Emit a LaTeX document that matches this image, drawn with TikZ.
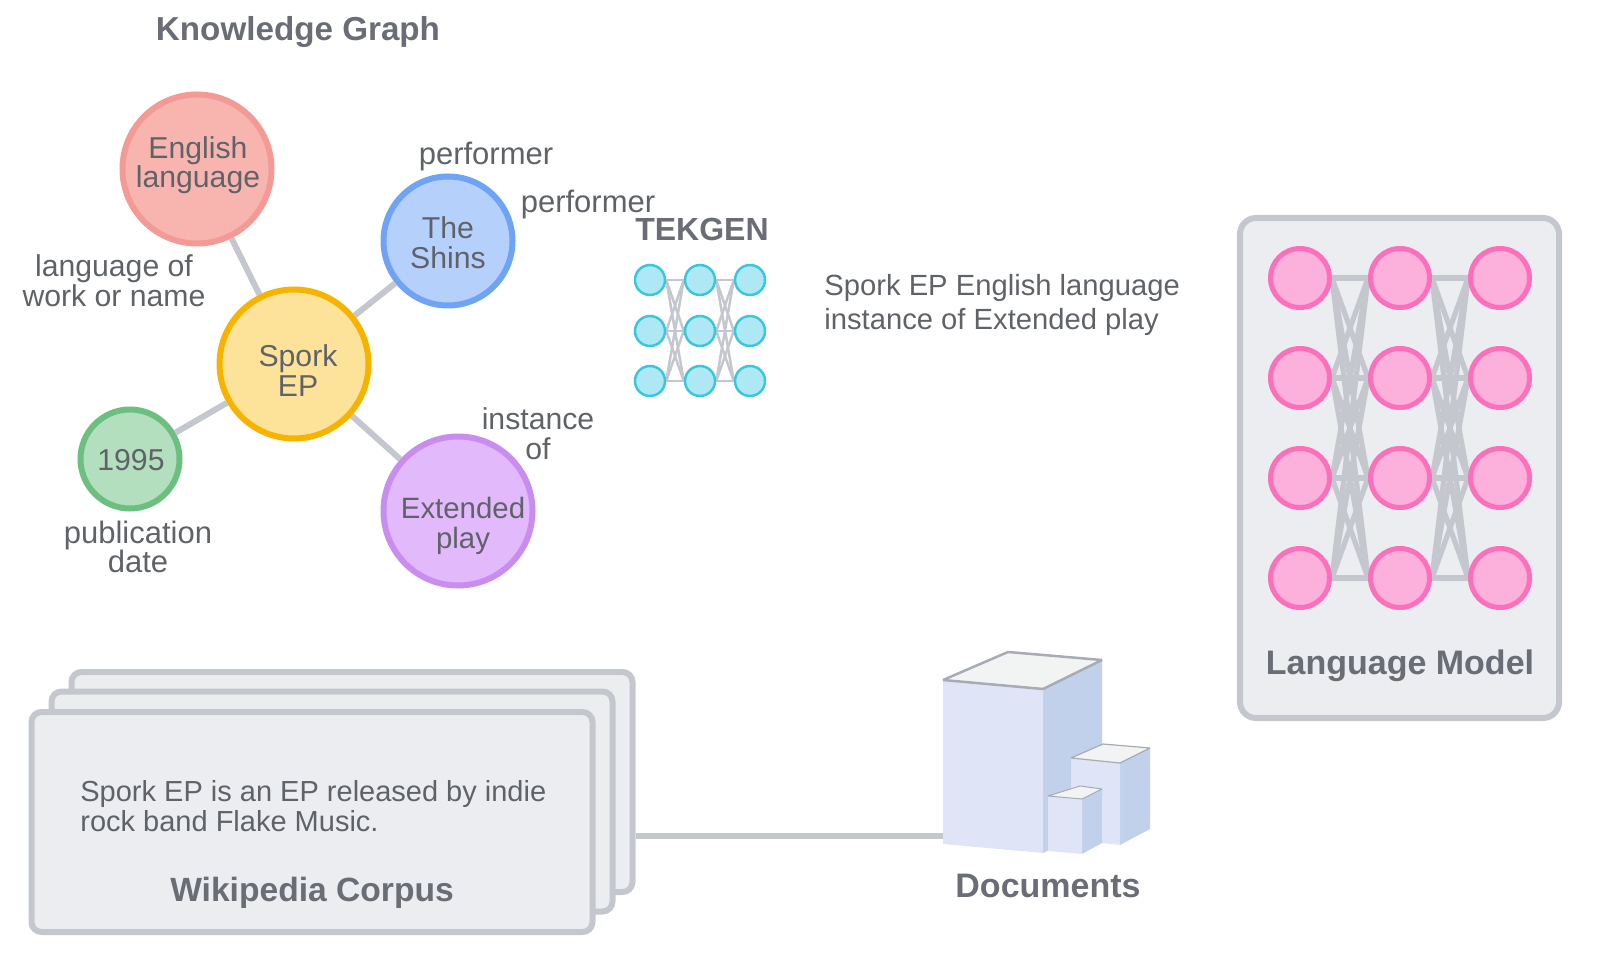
\documentclass[tikz,border=0pt]{standalone}
\usepackage{fontspec}
\setmainfont{Liberation Sans}
\definecolor{txtgrey}{HTML}{5F6368}
\definecolor{headgrey}{HTML}{6A6D75}
\definecolor{linegrey}{HTML}{C4C7CE}
\definecolor{boxgrey}{HTML}{ECEDF0}
\definecolor{edgegrey}{HTML}{A8ABB3}
\definecolor{frontblue}{HTML}{DFE5F6}
\definecolor{sideblue}{HTML}{C1D1EB}
\definecolor{topgrey}{HTML}{F2F4F4}
\definecolor{pinkline}{HTML}{FC6FBB}
\definecolor{pinkfill}{HTML}{FCB0DC}
\definecolor{cyanline}{HTML}{3BC6DC}
\definecolor{cyanfill}{HTML}{AEE8F4}
\definecolor{redline}{HTML}{F29A93}
\definecolor{redfill}{HTML}{F8B5B0}
\definecolor{blueline}{HTML}{6FA3F5}
\definecolor{bluefill}{HTML}{B5D0FB}
\definecolor{yellowline}{HTML}{F6B400}
\definecolor{yellowfill}{HTML}{FDE29A}
\definecolor{greenline}{HTML}{6BBF7F}
\definecolor{greenfill}{HTML}{B3DFBE}
\definecolor{purpleline}{HTML}{C98DF0}
\definecolor{purplefill}{HTML}{E2B9FB}
\pgfdeclarelayer{front}
\pgfsetlayers{main,front}
\tikzset{
  kgnode/.style={circle, draw, line width=3pt, inner sep=0pt},
  txt/.style={text=txtgrey, align=center, inner sep=0pt, font=\fontsize{15.1}{14.8}\selectfont},
  smalltxt/.style={text=txtgrey, align=left, anchor=west, inner sep=0pt},
  head/.style={text=headgrey, inner sep=0pt, font=\fontsize{16.8}{20}\selectfont\bfseries},
  link/.style={draw=linegrey, line width=3pt},
  stackbox/.style={draw=linegrey, fill=boxgrey, line width=3pt, rounded corners=5pt, inner sep=0pt,
    minimum width=280.5pt, minimum height=110pt},
  pinkn/.style={circle, draw=pinkline, fill=pinkfill, line width=2.5pt, inner sep=0pt, minimum size=29.5pt},
  cyann/.style={circle, draw=cyanline, fill=cyanfill, line width=1.25pt, inner sep=0pt, minimum size=15pt},
}
\begin{document}
\begin{tikzpicture}[x=0.5pt, y=-0.5pt]
\useasboundingbox (0,0) rectangle (1600,956);

\node[head, font=\fontsize{16.6}{20}\selectfont\bfseries] (title) at (298,32) {Knowledge Graph};

\node[kgnode, draw=redline, fill=redfill, minimum size=74.5pt] (en) at (197,169) {};
\node[kgnode, draw=blueline, fill=bluefill, minimum size=64.5pt] (sh) at (448,241) {};
\node[kgnode, draw=yellowline, fill=yellowfill, minimum size=74.5pt] (sp) at (294,364) {};
\node[kgnode, draw=greenline, fill=greenfill, minimum size=49.5pt] (yr) at (130,459) {};
\node[kgnode, draw=purpleline, fill=purplefill, minimum size=74.5pt] (ex) at (458,511) {};

\path[link]
(en) -- (sp)
(sh) -- (sp)
(yr) -- (sp)
(ex) -- (sp)
;

\node[txt] (ent) at (198,165) {English\\language};
\node[txt] (sht) at (448,243) {The\\Shins};
\node[txt] (spt) at (298,370.5) {Spork\\EP};
\node[txt] (yrt) at (131,460) {1995};
\node[txt, font=\fontsize{14.7}{14.8}\selectfont] (ext) at (463,526) {Extended\\play};

\node[txt] (lang) at (114,281) {language of\\work or name};
\node[txt, font=\fontsize{15.5}{14.8}\selectfont] (perfa) at (486,157) {performer};
\node[txt, font=\fontsize{15.5}{14.8}\selectfont] (perfb) at (588,205) {performer};
\node[txt] (inst) at (538,434) {instance\\of};
\node[txt, font=\fontsize{15.5}{14.8}\selectfont] (pub) at (138,547) {publication\\date};

\node[head, font=\fontsize{16}{20}\selectfont\bfseries] (tek) at (702,229) {TEKGEN};

\begin{pgfonlayer}{front}
\foreach \c/\x in {a/650,b/700,c/750}
  \foreach \r/\y in {1/280,2/331,3/381}
    \node[cyann] (t\c\r) at (\x,\y) {};
\end{pgfonlayer}
\foreach \i in {1,2,3}
  \foreach \j in {1,2,3} {
    \draw[draw=linegrey, line width=1.25pt] (ta\i.east) -- (tb\j.west);
    \draw[draw=linegrey, line width=1.25pt] (tb\i.east) -- (tc\j.west);
  }

\node[smalltxt, font=\fontsize{14.6}{17}\selectfont] (sent) at (824,305)
  {Spork EP English language\\instance of Extended play};

\node[stackbox] (cthree) at (352,782) {};
\node[stackbox] (ctwo) at (332,801.5) {};
\node[stackbox] (cone) at (312,822) {};
\node[smalltxt, font=\fontsize{14.5}{14.8}\selectfont] (ctext) at (80,806)
  {Spork EP is an EP released by indie\\rock band Flake Music.};
\node[head] (clabel) at (312,893) {Wikipedia Corpus};

\coordinate (docs) at (944,836);
\draw[link] (cthree.east |- docs) -- (docs);

\fill[sideblue] (1043,689) -- (1102,660) -- (1102,824) -- (1043,853) -- cycle;
\fill[frontblue] (943,680) -- (1043,689) -- (1043,853) -- (943,844) -- cycle;
\draw[draw=edgegrey, fill=topgrey, line width=1.25pt, line join=bevel]
(943,680) -- (1008,652) -- (1102,660) -- (1043,689) -- cycle;

\fill[sideblue] (1120,763) -- (1150,748) -- (1150,829) -- (1120,845) -- cycle;
\fill[frontblue] (1071,758) -- (1120,763) -- (1120,845) -- (1071,840) -- cycle;
\draw[draw=edgegrey, fill=topgrey, line width=0.6pt, line join=bevel]
(1071,758) -- (1103,744) -- (1150,748) -- (1120,763) -- cycle;

\fill[sideblue] (1082,799) -- (1102,789) -- (1102,843) -- (1082,854) -- cycle;
\fill[frontblue] (1048,796) -- (1082,799) -- (1082,854) -- (1048,851) -- cycle;
\draw[draw=edgegrey, fill=topgrey, line width=0.5pt, line join=bevel]
(1048,796) -- (1080,786) -- (1102,789) -- (1082,799) -- cycle;

\node[head, font=\fontsize{17}{20}\selectfont\bfseries] (dlabel) at (1048,886) {Documents};

\node[draw=linegrey, fill=boxgrey, line width=3pt, rounded corners=8pt, inner sep=0pt,
  minimum width=159.5pt, minimum height=250pt] (lm) at (1399.5,468) {};

\begin{pgfonlayer}{front}
\foreach \c/\x in {a/1300,b/1400,c/1500}
  \foreach \r/\y in {1/278,2/378,3/478,4/578}
    \node[pinkn] (p\c\r) at (\x,\y) {};
\end{pgfonlayer}
\foreach \i in {1,2,3,4}
  \foreach \j in {1,2,3,4} {
    \draw[draw=linegrey, line width=2.6pt] (pa\i.east) -- (pb\j.west);
    \draw[draw=linegrey, line width=2.6pt] (pb\i.east) -- (pc\j.west);
  }

\node[head, font=\fontsize{17}{20}\selectfont\bfseries] (lmlabel) at (1400,666) {Language Model};

\end{tikzpicture}
\end{document}
